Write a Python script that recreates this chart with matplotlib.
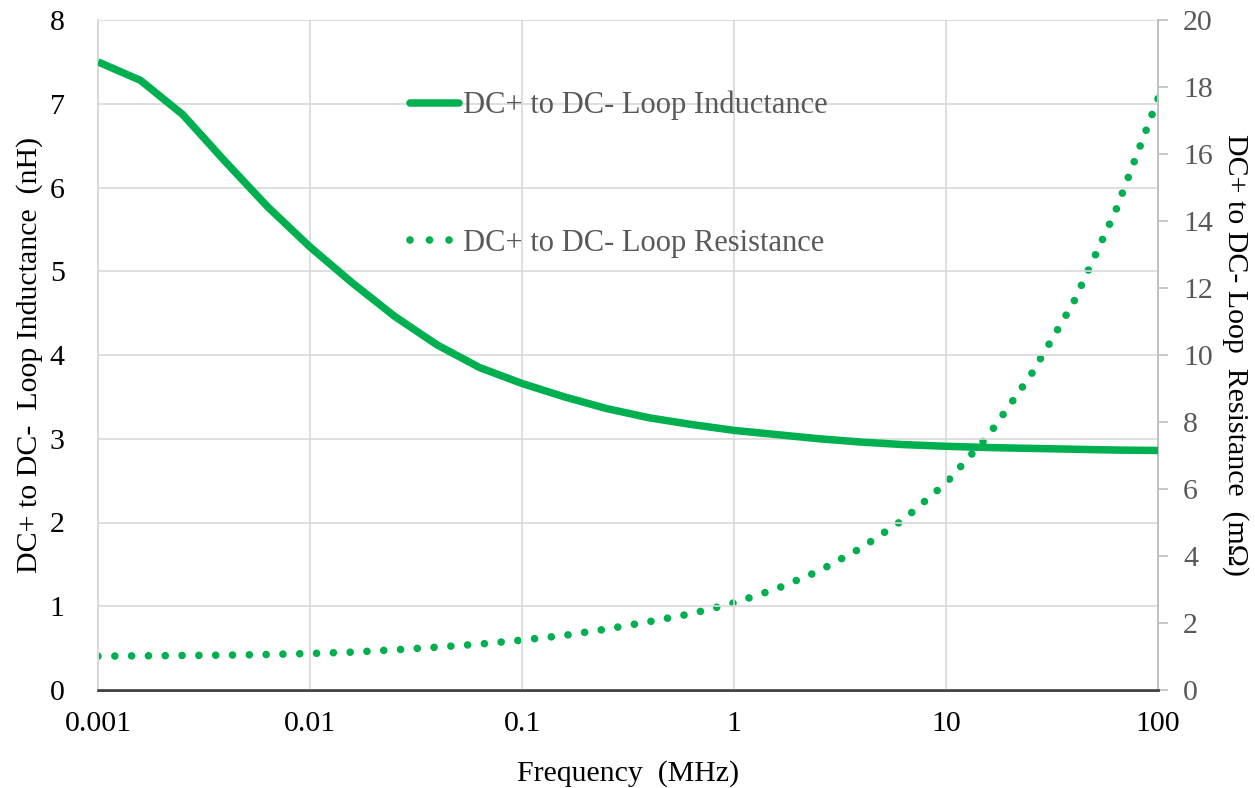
import matplotlib
matplotlib.use("Agg")
import matplotlib.pyplot as plt
from matplotlib.lines import Line2D

# ---- data ----
freq_mhz = [0.001, 0.001585, 0.002512, 0.003981, 0.00631, 0.01, 0.01585, 0.02512,
            0.03981, 0.0631, 0.1, 0.1585, 0.2512, 0.3981, 0.631, 1.0, 1.585,
            2.512, 3.981, 6.31, 10.0, 15.85, 25.12, 39.81, 63.1, 100.0]
inductance_nh = [7.50, 7.28, 6.87, 6.31, 5.77, 5.29, 4.86, 4.46, 4.12, 3.85, 3.66,
                 3.50, 3.36, 3.25, 3.17, 3.10, 3.05, 3.00, 2.96, 2.93, 2.91,
                 2.895, 2.885, 2.875, 2.865, 2.86]
resistance_mohm = [1.01, 1.02, 1.03, 1.04, 1.06, 1.09, 1.13, 1.20, 1.28, 1.37, 1.49,
                   1.63, 1.82, 2.04, 2.28, 2.60, 3.02, 3.55, 4.24, 5.09, 6.18,
                   7.60, 9.40, 11.55, 14.30, 17.65]
x_ticks = [0.001, 0.01, 0.1, 1, 10, 100]
x_tick_labels = ["0.001", "0.01", "0.1", "1", "10", "100"]
left_ticks = list(range(0, 9))
right_ticks = list(range(0, 21, 2))

label_L = "DC+ to DC- Loop Inductance"
label_R = "DC+ to DC- Loop Resistance"

GREEN = "#00B050"
GRID = "#d9d9d9"
GRAYTXT = "#595959"

plt.rcParams["font.family"] = ["Liberation Serif", "DejaVu Serif"]
FS = 21.5
LFS = 22

DOT_LW = 5.5
DOT_STYLE = (0, (0.001, 2.2))

fig = plt.figure(figsize=(12.55, 7.88), dpi=100)
ax1 = fig.add_axes([98/1255, 1-690/788, (1158-98)/1255, (690-20)/788])
ax2 = ax1.twinx()
ax1.set_zorder(ax2.get_zorder() + 1)
ax1.patch.set_visible(False)

ax1.plot(freq_mhz, inductance_nh, color=GREEN, lw=5.4, solid_capstyle="butt",
         solid_joinstyle="round", zorder=3)
ax2.plot(freq_mhz, resistance_mohm, color=GREEN, lw=DOT_LW,
         linestyle=DOT_STYLE, dash_capstyle="round", zorder=3)

ax1.set_xscale("log")
ax1.set_xlim(0.001, 100)
ax1.set_ylim(0, 8)
ax2.set_ylim(0, 20)

ax1.set_xticks(x_ticks)
ax1.set_xticklabels(x_tick_labels)
ax1.xaxis.set_minor_locator(matplotlib.ticker.NullLocator())
ax1.set_yticks(left_ticks)
ax2.set_yticks(right_ticks)

ax1.grid(True, which="major", color=GRID, lw=1.2, zorder=0)
ax1.set_axisbelow(True)

ax1.tick_params(axis="x", length=0, labelsize=FS, colors="black", pad=15)
ax1.tick_params(axis="y", length=0, labelsize=FS, colors="black", pad=24)
ax2.tick_params(axis="y", length=7, width=1.2, color="#bfbfbf", labelsize=FS,
                labelcolor=GRAYTXT, pad=11, direction="out")

for ax in (ax1, ax2):
    ax.spines["top"].set_visible(False)
    ax.spines["left"].set_color(GRID)
    ax.spines["left"].set_linewidth(1.2)
    ax.spines["right"].set_color("#bfbfbf")
    ax.spines["right"].set_linewidth(1.2)
    ax.spines["bottom"].set_color("#404040")
    ax.spines["bottom"].set_linewidth(1.8)

ax1.set_xlabel("Frequency  (MHz)", fontsize=FS, labelpad=17)
ax1.set_ylabel("DC+ to DC-  Loop Inductance  (nH)", fontsize=FS, labelpad=5)
ax2.set_ylabel("DC+ to DC- Loop  Resistance  (m\u03a9)", fontsize=FS,
               rotation=270, labelpad=26)

handles = [Line2D([], [], color=GREEN, lw=5.4, solid_capstyle="round"),
           Line2D([], [], color=GREEN, lw=DOT_LW, linestyle=(0, (0.001, 2.55)),
                  dash_capstyle="round")]
leg = fig.legend(handles, [label_L, label_R], loc="upper left",
                 bbox_to_anchor=(410/1255, 1-91/788), frameon=False,
                 fontsize=LFS, handlelength=1.6, handletextpad=0.15,
                 labelspacing=3.55, borderaxespad=0, borderpad=0)
for t in leg.get_texts():
    t.set_color(GRAYTXT)

fig.savefig("out.png", dpi=100, facecolor="white")
